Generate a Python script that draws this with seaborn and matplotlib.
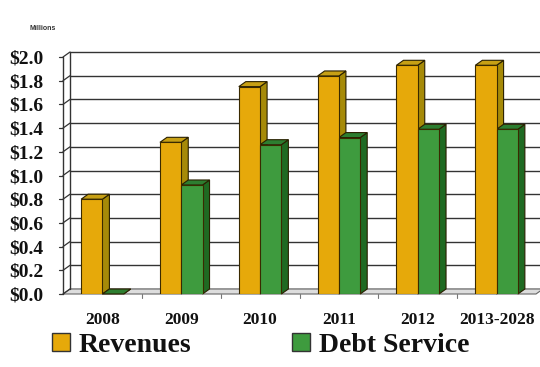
import matplotlib
matplotlib.use("Agg")
import matplotlib.pyplot as plt
import matplotlib.transforms as mtransforms
from matplotlib.patches import Polygon, Rectangle
from matplotlib.lines import Line2D
import seaborn as sns
import pandas as pd

categories = ["2008", "2009", "2010", "2011", "2012", "2013-2028"]
revenues = [0.80, 1.28, 1.75, 1.84, 1.93, 1.93]
debt_service = [0.0, 0.92, 1.26, 1.32, 1.39, 1.39]
y_ticks = [0.0, 0.2, 0.4, 0.6, 0.8, 1.0, 1.2, 1.4, 1.6, 1.8, 2.0]
y_tick_labels = ["$%.1f" % v for v in y_ticks]
series_names = ["Revenues", "Debt Service"]

sns.set_theme(style="white")
plt.rcParams["font.family"] = ["Liberation Serif", "DejaVu Serif"]

df = pd.DataFrame({
    "Year": categories * 2,
    "Value": revenues + debt_service,
    "Series": [series_names[0]] * len(categories) + [series_names[1]] * len(categories),
})

front_colors = {"Revenues": "#E6A90A", "Debt Service": "#3E9B3E"}
side_colors = {"Revenues": "#A68A08", "Debt Service": "#1F6A22"}
top_colors = {"Revenues": "#C7A015", "Debt Service": "#2D7E30"}

fig = plt.figure(figsize=(5.4, 3.67), dpi=100)
ax = fig.add_axes([63 / 540, 1 - 294 / 367, 473 / 540, 237 / 367])

sns.barplot(data=df, x="Year", y="Value", hue="Series", order=categories,
            hue_order=series_names, palette=front_colors, width=0.54,
            dodge=True, gap=0, saturation=1, edgecolor="#3a2a00", linewidth=0.8,
            legend=False, ax=ax, zorder=5)

ax.set_xlim(-0.5, len(categories) - 0.5)
ax.set_ylim(0, 2.0)
for s in ax.spines.values():
    s.set_visible(False)
ax.set_xlabel("")
ax.set_ylabel("")

dx, dy = 7, 5  # depth offset in pixels
back = mtransforms.offset_copy(ax.transData, fig=fig, x=dx, y=dy, units="dots")
inv = ax.transData.inverted()
n = len(categories)

# back wall gridlines
for v in y_ticks:
    ax.plot([-0.5, n - 0.5], [v, v], transform=back,
            color="#333333", lw=1.0, zorder=1, clip_on=False)
# left wall edges
ax.plot([-0.5, -0.5], [0, 2.0], color="#333333", lw=1.0, clip_on=False, zorder=2)
ax.plot([-0.5, -0.5], [0, 2.0], transform=back, color="#333333", lw=1.0,
        clip_on=False, zorder=2)
for v in y_ticks:
    p0 = ax.transData.transform((-0.5, v))
    q1 = inv.transform((p0[0] + dx, p0[1] + dy))
    ax.plot([-0.5, q1[0]], [v, q1[1]], color="#333333", lw=0.9, clip_on=False, zorder=2)
    q2 = inv.transform((p0[0] - 4, p0[1]))
    ax.plot([q2[0], -0.5], [v, v], color="#333333", lw=0.9, clip_on=False, zorder=2)

# floor
f0 = ax.transData.transform((-0.5, 0))
f1 = ax.transData.transform((n - 0.5, 0))
floor_pts = [f0, f1, (f1[0] + dx, f1[1] + dy), (f0[0] + dx, f0[1] + dy)]
floor = Polygon([inv.transform(p) for p in floor_pts], closed=True,
                facecolor="#DDDDDD", edgecolor="#666666", lw=0.8, zorder=1.5,
                clip_on=False)

# x ticks at category boundaries
for i in range(1, n):
    b = ax.transData.transform((i - 0.5, 0))
    q = inv.transform((b[0], b[1] - 4))
    ax.plot([i - 0.5, i - 0.5], [0, q[1]], color="#777777", lw=0.8, clip_on=False)

# 3D faces for each bar
bars = [p for p in ax.patches if isinstance(p, Rectangle)]
ax.add_patch(floor)
for idx, bar in enumerate(bars[: 2 * n]):
    name = series_names[idx // n]
    x0 = bar.get_x()
    w = bar.get_width()
    h = bar.get_height()
    br = ax.transData.transform((x0 + w, 0))
    tl = ax.transData.transform((x0, h))
    tr = ax.transData.transform((x0 + w, h))
    side = [br, tr, (tr[0] + dx, tr[1] + dy), (br[0] + dx, br[1] + dy)]
    top = [tl, tr, (tr[0] + dx, tr[1] + dy), (tl[0] + dx, tl[1] + dy)]
    ax.add_patch(Polygon([inv.transform(p) for p in side], closed=True,
                         facecolor=side_colors[name], edgecolor="#2a2000",
                         lw=0.8, zorder=4.5, clip_on=False))
    ax.add_patch(Polygon([inv.transform(p) for p in top], closed=True,
                         facecolor=top_colors[name], edgecolor="#2a2000",
                         lw=0.8, zorder=4.5, clip_on=False))

ax.set_yticks(y_ticks)
ax.set_yticklabels(y_tick_labels, fontsize=14, fontweight="bold", color="#111111")
ax.tick_params(axis="y", length=0, pad=14)
ax.set_xticks(range(n))
ax.set_xticklabels(categories, fontsize=12.5, fontweight="bold", color="#111111")
ax.tick_params(axis="x", length=0, pad=13)

fig.text(30 / 540, 1 - 29 / 367, "Millions", fontsize=5, fontweight="bold",
         color="#333333", family=["Liberation Sans", "DejaVu Sans"], va="center")

# legend
handles = [Line2D([0], [0], marker="s", linestyle="none", markersize=13,
                  markerfacecolor=front_colors[s], markeredgecolor="#333333")
           for s in series_names]
fig.legend(handles, series_names, loc="center left",
           bbox_to_anchor=(48 / 540, 1 - 345 / 367),
           ncol=2, frameon=False, prop={"size": 20, "weight": "bold"},
           labelcolor="#111111",
           handletextpad=0.2, columnspacing=3.5, handlelength=0.9,
           borderaxespad=0, borderpad=0)

fig.savefig("out.png", dpi=100)
